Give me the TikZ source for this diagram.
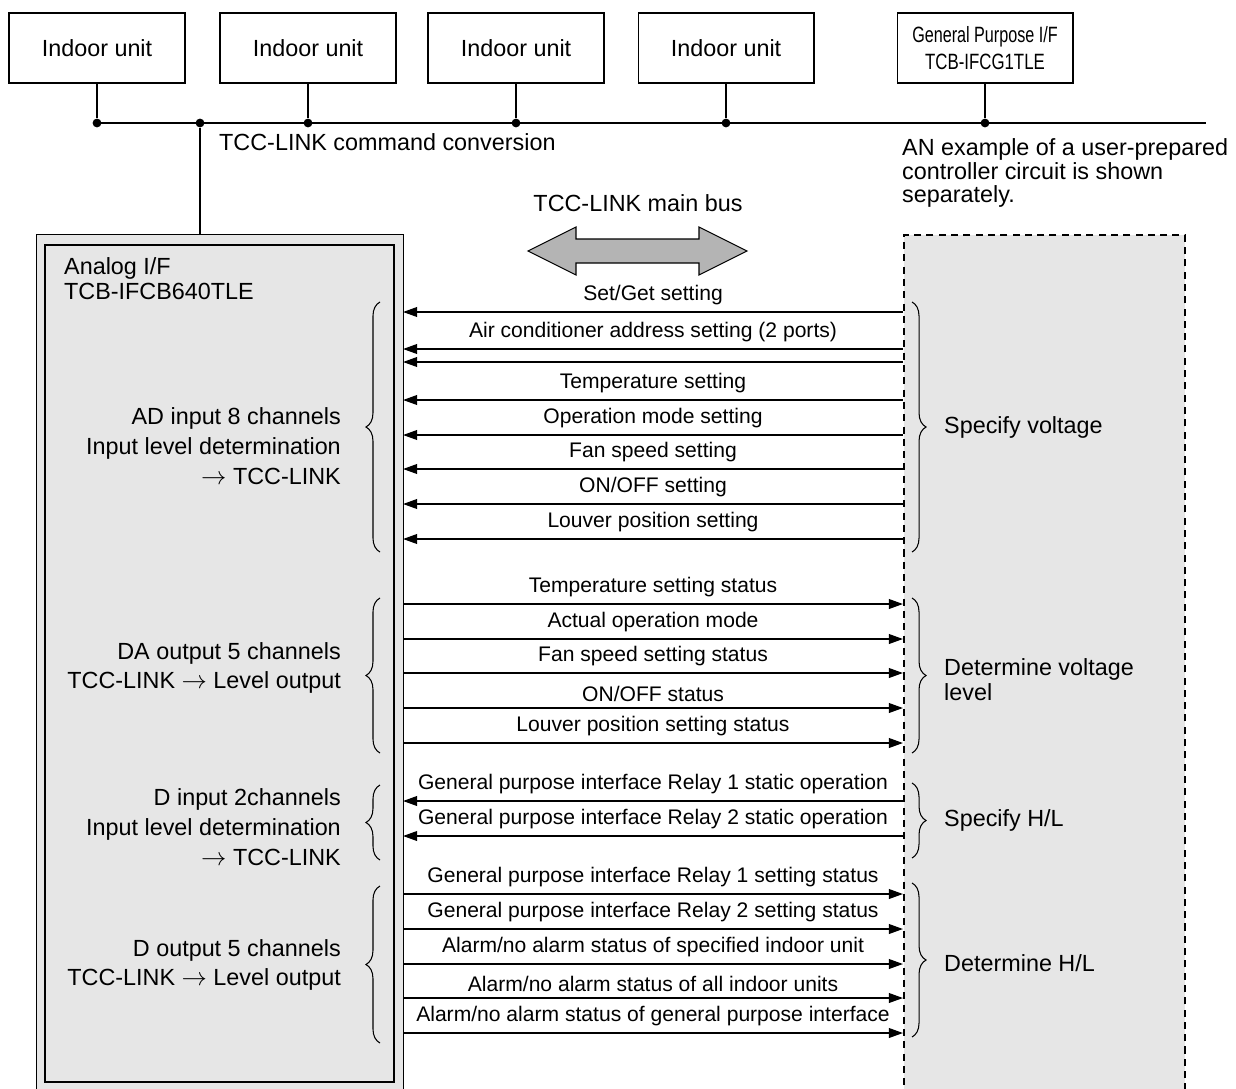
\documentclass[tikz,border=0pt]{standalone}
\usepackage{fontspec}
\setmainfont{Liberation Sans}
\usetikzlibrary{arrows.meta,decorations.pathreplacing}
\definecolor{white}{RGB}{255,255,255}
\definecolor{black}{RGB}{0,0,0}
\definecolor{panel_gray}{RGB}{230,230,230}
\definecolor{bus_gray}{RGB}{180,180,180}

\begin{document}
\begin{tikzpicture}[x=0.02cm,y=-0.02cm,
	unit/.style={draw=black,line width=0.6pt,fill=white,minimum width=3.52cm,minimum height=1.4cm,align=center,font=\fontsize{13.3}{14.5}\selectfont},
	dot/.style={circle,fill=black,inner sep=0pt,minimum size=5pt},
	sig/.style={black,line width=0.9pt,-{Triangle[length=8pt,width=5.5pt]}},
	lbl/.style={font=\fontsize{12}{14}\selectfont,above},
	txt/.style={font=\fontsize{13.3}{17}\selectfont},
	grp/.style={decorate,decoration={brace,amplitude=8pt},line width=0.6pt}]
	\useasboundingbox (0,0) rectangle (1236,1088);

	% panels
	\node[draw=black,line width=0.6pt,fill=panel_gray,anchor=north west,minimum width=7.34cm,minimum height=17.4cm] (analog) at (36,234) {};
	\draw[line width=1.4pt] (45,245) rectangle (394,1082);
	\node[draw=black,dash pattern=on 4pt off 3pt,line width=0.9pt,fill=panel_gray,anchor=north west,minimum width=5.62cm,minimum height=17.4cm] (user) at (903,234) {};
	\node[txt,align=left,anchor=west,font=\fontsize{13.3}{14.2}\selectfont] (aif) at (58,279) {Analog I/F\\TCB-IFCB640TLE};

	% indoor units and bus
	\node[unit] (u1) at (97,48) {Indoor unit};
	\node[unit] (u2) at (308,48) {Indoor unit};
	\node[unit] (u3) at (516,48) {Indoor unit};
	\node[unit] (u4) at (726,48) {Indoor unit};
	\node[unit,font=\fontsize{12.6}{15.3}\selectfont] (u5) at (985,48) {\scalebox{0.73}[1]{General Purpose I/F}\\\scalebox{0.76}[1]{TCB-IFCG1TLE}};

	\node[dot] (d1) at (97,123) {};
	\node[dot] (dl) at (200,123) {};
	\node[dot] (d2) at (308,123) {};
	\node[dot] (d3) at (516,123) {};
	\node[dot] (d4) at (726,123) {};
	\node[dot] (d5) at (985,123) {};
	\coordinate (busend) at (1206,123);

	\draw[line width=0.6pt] (d1.center) -- (busend);
	\foreach \x/\y in {u1/d1,u2/d2,u3/d3,u4/d4,u5/d5}
		\draw[line width=0.6pt] (\x) -- (\y);
	\draw[line width=0.6pt] (dl) -- (dl |- analog.north);

	\node[txt,anchor=west] (conv) at (213,142) {TCC-LINK command conversion};
	\node[txt,align=left,anchor=west,font=\fontsize{13.3}{13.2}\selectfont] (note) at (896,173) {AN example of a user-prepared\\controller circuit is shown\\separately.};

	% main bus arrow
	\node[txt] (mainbus) at (638,203) {TCC-LINK main bus};
	\draw[line width=0.6pt,fill=bus_gray] (528,251) -- (576,227) -- (576,239) -- (699,239) -- (699,227) -- (747,251) -- (699,275) -- (699,263) -- (576,263) -- (576,275) -- cycle;

	% signals towards the analog I/F
	\foreach \y/\t [count=\i] in {312/{Set/Get setting},349/{Air conditioner address setting (2 ports)},400/{Temperature setting},435/{Operation mode setting},469/{Fan speed setting},504/{ON/OFF setting},539/{Louver position setting},801/{General purpose interface Relay 1 static operation},836/{General purpose interface Relay 2 static operation}}{
		\coordinate (si\i) at (903,\y);
		\coordinate (ti\i) at (403,\y);
		\draw[sig] (si\i) -- (ti\i) node[lbl,midway] {\t};
	}
	\coordinate (sx) at (903,362);
	\coordinate (tx) at (403,362);
	\draw[sig] (sx) -- (tx);

	% signals from the analog I/F
	\foreach \y/\t [count=\i] in {604/{Temperature setting status},639/{Actual operation mode},673/{Fan speed setting status},708/{ON/OFF status},743/{Louver position setting status},894/{General purpose interface Relay 1 setting status},929/{General purpose interface Relay 2 setting status},964/{Alarm/no alarm status of specified indoor unit},998/{Alarm/no alarm status of all indoor units},1033/{Alarm/no alarm status of general purpose interface}}{
		\coordinate (so\i) at (403,\y);
		\coordinate (to\i) at (903,\y);
		\draw[sig] (so\i) -- (to\i) node[lbl,midway] {\t};
	}

	% braces
	\draw[grp] (380,552) -- (380,302);
	\draw[grp] (380,753) -- (380,598);
	\draw[grp] (380,860) -- (380,785);
	\draw[grp] (380,1043) -- (380,886);
	\draw[grp] (912,302) -- (912,552);
	\draw[grp] (912,598) -- (912,753);
	\draw[grp] (912,783) -- (912,858);
	\draw[grp] (912,883) -- (912,1037);

	% group texts
	\node[txt,align=right,anchor=east] (adin) at (347,446) {AD input 8 channels\\Input level determination\\$\rightarrow$ TCC-LINK};
	\node[txt,align=right,anchor=east] (daout) at (347,668) {DA output 5 channels\\TCC-LINK $\rightarrow$ Level output};
	\node[txt,align=right,anchor=east] (din) at (347,827) {D input 2channels\\Input level determination\\$\rightarrow$ TCC-LINK};
	\node[txt,align=right,anchor=east] (dout) at (347,965) {D output 5 channels\\TCC-LINK $\rightarrow$ Level output};

	\node[txt,anchor=west] (spv) at (938,427) {Specify voltage};
	\node[txt,align=left,anchor=west,font=\fontsize{13.3}{14.2}\selectfont] (dtv) at (938,680) {Determine voltage\\level};
	\node[txt,anchor=west] (sphl) at (938,820) {Specify H/L};
	\node[txt,anchor=west] (dthl) at (938,963) {Determine H/L};
\end{tikzpicture}
\end{document}
